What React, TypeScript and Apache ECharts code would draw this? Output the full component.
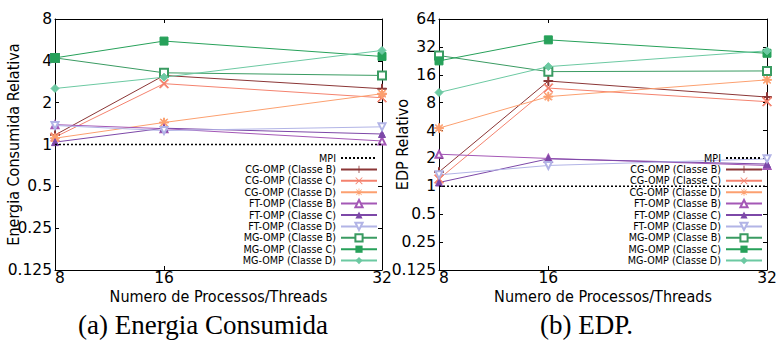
import React, { useEffect, useRef } from "react";
import * as echarts from "echarts";

const threads = [8, 16, 32];
const seriesNames = [
  "CG-OMP (Classe B)",
  "CG-OMP (Classe C)",
  "CG-OMP (Classe D)",
  "FT-OMP (Classe B)",
  "FT-OMP (Classe C)",
  "FT-OMP (Classe D)",
  "MG-OMP (Classe B)",
  "MG-OMP (Classe C)",
  "MG-OMP (Classe D)",
];
const mpiLevel = [1, 1, 1];

// Energia Consumida Relativa
const energyCGB = [1.17, 3.14, 2.52];
const energyCGC = [1.13, 2.74, 2.17];
const energyCGD = [1.11, 1.44, 2.32];
const energyFTB = [1.39, 1.3, 1.06];
const energyFTC = [1.04, 1.31, 1.19];
const energyFTD = [1.37, 1.26, 1.34];
const energyMGB = [4.2, 3.28, 3.14];
const energyMGC = [4.2, 5.55, 4.3];
const energyMGD = [2.53, 3.05, 4.75];

// EDP Relativo
const edpCGB = [1.43, 13.7, 9.2];
const edpCGC = [1.2, 11.5, 8.2];
const edpCGD = [4.25, 9.3, 14.1];
const edpFTB = [2.22, 2.0, 1.68];
const edpFTC = [1.1, 1.98, 1.74];
const edpFTD = [1.33, 1.68, 1.98];
const edpMGB = [25.8, 17.3, 17.6];
const edpMGC = [22.6, 38.1, 27.3];
const edpMGD = [10.3, 19.6, 29];

const energyData = [energyCGB, energyCGC, energyCGD, energyFTB, energyFTC, energyFTD, energyMGB, energyMGC, energyMGD];
const edpData = [edpCGB, edpCGC, edpCGD, edpFTB, edpFTC, edpFTD, edpMGB, edpMGC, edpMGD];

const PLUS = "path://M4.45,0H5.55V4.45H10V5.55H5.55V10H4.45V5.55H0V4.45H4.45Z";
const CROSS = "path://M0,0.8L0.8,0L10,9.2L9.2,10ZM10,0.8L9.2,0L0,9.2L0.8,10Z";
const STAR =
  "path://M4.45,0H5.55V4.45H10V5.55H5.55V10H4.45V5.55H0V4.45H4.45ZM0.9,1.6L1.6,0.9L9.1,8.4L8.4,9.1ZM9.1,1.6L8.4,0.9L0.9,8.4L1.6,9.1Z";

const styles = [
  { color: "#8b3636", symbol: PLUS, size: 9, rotate: 0 },
  { color: "#f4826e", symbol: CROSS, size: 9, rotate: 0 },
  { color: "#fca070", symbol: STAR, size: 9, rotate: 0 },
  { color: "#a458b6", symbol: "emptyTriangle", size: 7, rotate: 0 },
  { color: "#7d48a8", symbol: "triangle", size: 7, rotate: 0 },
  { color: "#b2b4e6", symbol: "emptyTriangle", size: 7, rotate: 180 },
  { color: "#3a9b62", symbol: "emptyRect", size: 8, rotate: 0 },
  { color: "#27a15a", symbol: "rect", size: 8, rotate: 0 },
  { color: "#6cc9a2", symbol: "diamond", size: 8, rotate: 0 },
];

const FONT = "'DejaVu Sans Condensed', 'DejaVu Sans', sans-serif";
const TICKFONT = "'DejaVu Sans', sans-serif";

function fmt(v: number) {
  return String(+Number(v).toPrecision(6));
}

export default function App() {
  const ref = useRef<HTMLDivElement>(null);
  useEffect(() => {
    if (!ref.current) return;
    const chart = echarts.init(ref.current, null, { renderer: "svg" });

    const xBase = (grid: number, pos: "bottom" | "top") => ({
      type: "value",
      gridIndex: grid,
      position: pos,
      min: 8,
      max: 32,
      axisLine: { show: true, lineStyle: { color: "#000", width: 1 } },
      axisTick: { show: true, inside: true, length: 4, customValues: threads, lineStyle: { color: "#000" } },
      axisLabel: {
        show: pos === "bottom",
        customValues: threads,
        color: "#000",
        fontFamily: TICKFONT,
        fontSize: 15.5,
        margin: 0,
        hideOverlap: false,
        alignMinLabel: "left",
      },
      splitLine: { show: false },
      name: pos === "bottom" ? "Numero de Processos/Threads" : "",
      nameLocation: "middle",
      nameGap: 18,
      nameMoveOverlap: false,
      nameTextStyle: { color: "#000", fontFamily: FONT, fontSize: 16 },
    });

    const yBase = (grid: number, pos: "left" | "right", max: number, splits: number, title: string, gap: number) => ({
      type: "log",
      logBase: 2,
      gridIndex: grid,
      position: pos,
      min: 0.125,
      max,
      splitNumber: splits,
      axisLine: { show: true, lineStyle: { color: "#000", width: 1 } },
      axisTick: { show: true, inside: true, length: 4, lineStyle: { color: "#000" } },
      axisLabel: {
        show: pos === "left",
        color: "#000",
        fontFamily: TICKFONT,
        fontSize: 15.5,
        margin: 3,
        formatter: (v: number) => fmt(v),
      },
      splitLine: { show: false },
      minorTick: { show: false },
      name: pos === "left" ? title : "",
      nameLocation: "middle",
      nameGap: gap,
      nameMoveOverlap: false,
      nameTextStyle: { color: "#000", fontFamily: FONT, fontSize: 16 },
    });

    const makeSeries = (data: number[][], xi: number, yi: number) => {
      const out: any[] = [
        {
          name: "MPI",
          type: "line",
          xAxisIndex: xi,
          yAxisIndex: yi,
          data: threads.map((t, i) => [t, mpiLevel[i]]),
          symbol: "none",
          lineStyle: { color: "#000", width: 1.5, type: [2, 2] },
          itemStyle: { color: "#000" },
          z: 3,
        },
      ];
      seriesNames.forEach((n, k) => {
        const st = styles[k];
        out.push({
          name: n,
          type: "line",
          xAxisIndex: xi,
          yAxisIndex: yi,
          data: threads.map((t, i) => [t, data[k][i]]),
          symbol: st.symbol,
          symbolSize: st.size,
          symbolRotate: st.rotate,
          showAllSymbol: true,
          lineStyle: { color: st.color, width: 1 },
          itemStyle: { color: st.color, borderColor: st.color },
          z: 2,
        });
      });
      return out;
    };

    const legendNames: any[] = [
      { name: "MPI", itemStyle: { color: "rgba(0,0,0,0)", borderColor: "rgba(0,0,0,0)", opacity: 0 } },
      ...seriesNames,
    ];
    const legendBase = (right: number) => ({
      orient: "vertical",
      align: "right",
      right,
      top: 153,
      itemWidth: 36,
      itemHeight: 9,
      itemGap: 1.4,
      padding: 0,
      data: legendNames,
      textStyle: { color: "#000", fontFamily: TICKFONT, fontSize: 9.6, lineHeight: 10 },
      selectedMode: false,
    });

    chart.setOption({
      animation: false,
      backgroundColor: "#fff",
      grid: [
        { left: 55, right: 399, top: 19, bottom: 70, show: false },
        { left: 439, right: 14, top: 19, bottom: 70, show: false },
      ],
      xAxis: [xBase(0, "bottom"), xBase(0, "top"), xBase(1, "bottom"), xBase(1, "top")],
      yAxis: [
        yBase(0, "left", 8, 6, "Energia Consumida Relativa", 34),
        yBase(0, "right", 8, 6, "", 0),
        yBase(1, "left", 64, 9, "EDP Relativo", 29),
        yBase(1, "right", 64, 9, "", 0),
      ],
      legend: [legendBase(403), legendBase(18)],
      series: [...makeSeries(energyData, 0, 0), ...makeSeries(edpData, 2, 2)],
      graphic: [
        {
          type: "text",
          left: 78,
          top: 311,
          style: { text: "(a) Energia Consumida", font: "27px 'Liberation Serif', serif", fill: "#000" },
        },
        {
          type: "text",
          left: 540,
          top: 311,
          style: { text: "(b) EDP.", font: "27px 'Liberation Serif', serif", fill: "#000" },
        },
      ],
    });
    return () => chart.dispose();
  }, []);
  return <div ref={ref} style={{ width: 781, height: 340, position: "absolute", left: 0, top: 0 }} />;
}
